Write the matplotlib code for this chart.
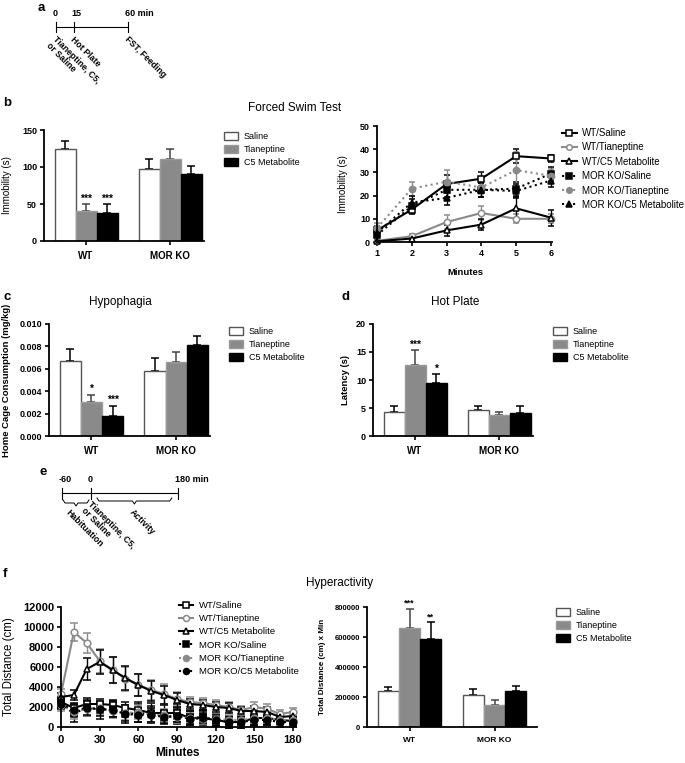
#!/usr/bin/env python3
"""Multi-panel behaviour figure: FST, hypophagia, hot plate and hyperactivity."""

import matplotlib

matplotlib.use("Agg")
import matplotlib.pyplot as plt
import numpy as np
from matplotlib.lines import Line2D
from matplotlib.patches import Patch

plt.rcParams["font.family"] = ["Liberation Sans", "DejaVu Sans"]

W, H = 685, 763

# ---------------------------------------------------------------- data
groups = ["WT", "MOR KO"]
treatments = ["Saline", "Tianeptine", "C5 Metabolite"]

# timelines (minutes)
timeline_a_times = [0, 15, 60]
timeline_a_ticks = ["0", "15", "60 min"]
timeline_a_events = ["Tianeptine, C5,\nor Saline", "Hot Plate", "FST, Feeding"]
timeline_e_times = [-60, 0, 180]
timeline_e_ticks = ["-60", "0", "180 min"]

# b: forced swim, total immobility (s)
fst_means = [[125, 41, 38], [97, 111, 91]]
fst_sems = [[10, 9, 12], [14, 14, 10]]
fst_stars = [["", "***", "***"], ["", "", ""]]

# b: forced swim time course
fst_minutes = [1, 2, 3, 4, 5, 6]
course_labels = ["WT/Saline", "WT/Tianeptine", "WT/C5 Metabolite",
                 "MOR KO/Saline", "MOR KO/Tianeptine", "MOR KO/C5 Metabolite"]
fst_course = [
    [5, 14, 25, 27.3, 37, 36],
    [0.5, 2.5, 8.6, 12.5, 10, 10],
    [0.3, 1.5, 5, 7.5, 14.5, 10.5],
    [3, 15.5, 22.5, 22.5, 23, 29.5],
    [6, 23, 26, 23.5, 31, 28.5],
    [4, 17, 19, 22.5, 22, 26.5],
]
fst_course_sems = [
    [2, 2, 4, 3, 3, 1.5],
    [0.5, 1, 3, 3, 2, 2],
    [0.5, 1, 2.5, 2.5, 5, 3.5],
    [2, 3, 3, 3, 3, 3],
    [2, 3, 5, 3, 8, 3],
    [2, 3, 3, 3, 3, 3],
]

# c: hypophagia, home cage consumption (mg/kg)
food_means = [[0.0067, 0.0030, 0.0018], [0.0058, 0.0066, 0.0081]]
food_sems = [[0.0011, 0.0007, 0.0009], [0.0012, 0.0009, 0.0008]]
food_stars = [["", "*", "***"], ["", "", ""]]

# d: hot plate latency (s)
hot_means = [[4.2, 12.6, 9.4], [4.7, 3.7, 4.1]]
hot_sems = [[1.1, 2.7, 1.6], [0.7, 0.6, 1.2]]
hot_stars = [["", "***", "*"], ["", "", ""]]

# f: hyperactivity time course, total distance (cm)
act_minutes = [0, 10, 20, 30, 40, 50, 60, 70, 80, 90, 100, 110, 120, 130, 140, 150, 160, 170, 180]
act_course = [
    [2500, 1900, 2300, 2300, 2200, 1900, 1700, 1400, 1400, 1400, 900, 900, 700, 500, 500, 900, 900, 700, 600],
    [3300, 9500, 8400, 6600, 5700, 4800, 4200, 3700, 3300, 2800, 2500, 2400, 2200, 2000, 1700, 2000, 1800, 1300, 1500],
    [3000, 3200, 5800, 6500, 5700, 4900, 4200, 3600, 3200, 2700, 2300, 2200, 2000, 1900, 1600, 1600, 1500, 1000, 1100],
    [2400, 1300, 2000, 1700, 1800, 1300, 1400, 1300, 1000, 1100, 900, 1000, 700, 500, 500, 800, 800, 600, 500],
    [2200, 1500, 1800, 1900, 1600, 1400, 1500, 1200, 1200, 1000, 900, 800, 800, 700, 700, 900, 900, 700, 700],
    [2300, 1700, 1900, 1800, 1700, 1300, 1200, 1200, 1000, 1100, 800, 900, 700, 500, 500, 700, 700, 500, 500],
]
act_course_sems = [
    [500, 500, 400, 500, 500, 600, 800, 1000, 800, 900, 700, 700, 600, 600, 600, 700, 600, 600, 500],
    [500, 900, 1000, 1200, 1300, 1200, 1100, 1000, 1000, 700, 500, 500, 500, 500, 400, 500, 500, 400, 400],
    [400, 500, 1100, 1200, 1300, 1200, 1100, 1000, 900, 700, 500, 500, 500, 500, 400, 500, 500, 400, 400],
    [500, 800, 900, 900, 800, 900, 900, 800, 700, 800, 700, 700, 600, 600, 600, 700, 600, 600, 500],
    [600, 700, 700, 700, 700, 700, 700, 700, 600, 600, 500, 500, 500, 500, 500, 500, 500, 500, 500],
    [500, 600, 700, 700, 700, 700, 700, 700, 600, 600, 500, 500, 500, 500, 500, 500, 500, 500, 500],
]

# f: area under curve, total distance (cm) x min
auc_means = [[240000, 660000, 585000], [215000, 150000, 240000]]
auc_sems = [[25000, 130000, 115000], [40000, 30000, 35000]]
auc_stars = [["", "***", "**"], ["", "", ""]]

# ---------------------------------------------------------------- styles
GREY = "#8a8a8a"
bar_fill = ["white", GREY, "black"]
bar_edge = ["#555555", "#9a9a9a", "black"]
bar_err = ["black", "#444444", "black"]
fst_styles = [
    dict(color="black", ls="-", marker="s", mfc="white"),
    dict(color=GREY, ls="-", marker="o", mfc="white"),
    dict(color="black", ls="-", marker="^", mfc="white"),
    dict(color="black", ls=":", marker="s", mfc="black"),
    dict(color=GREY, ls=":", marker="o", mfc=GREY),
    dict(color="black", ls=":", marker="^", mfc="black"),
]
act_styles = fst_styles[:5] + [dict(color="black", ls=":", marker="o", mfc="black")]

fig = plt.figure(figsize=(W / 100, H / 100), dpi=100)


def place(left, top, right, bottom):
    return fig.add_axes([left / W, 1 - bottom / H, (right - left) / W, (bottom - top) / H])


def ftext(x, y, s, **kw):
    fig.text(x / W, 1 - y / H, s, **kw)


def style_axes(ax, tick_fs):
    for side in ("top", "right"):
        ax.spines[side].set_visible(False)
    for side in ("left", "bottom"):
        ax.spines[side].set_linewidth(1.3)
    ax.tick_params(direction="out", length=3, width=1.2, labelsize=tick_fs, pad=2)
    for lab in ax.get_xticklabels() + ax.get_yticklabels():
        lab.set_fontweight("bold")


def bar_legend(ax, x, y, fs=6.5):
    handles = [Patch(facecolor=bar_fill[i], edgecolor=bar_edge[i], linewidth=1) for i in range(3)]
    ax.legend(handles, treatments, loc="upper left", bbox_to_anchor=(x / W, 1 - y / H),
              bbox_transform=fig.transFigure, frameon=False, fontsize=fs, borderpad=0,
              borderaxespad=0, handlelength=1.5, handleheight=0.9, handletextpad=0.7,
              labelspacing=0.45)


def bar_panel(ax, means, sems, stars, ylim, yticks, fmt, tick_fs, group_fs, star_fs, xmax=1.4):
    x = np.arange(len(groups))
    width = 0.25
    for i in range(len(treatments)):
        vals = np.array([means[g][i] for g in range(len(groups))])
        errs = np.array([sems[g][i] for g in range(len(groups))])
        pos = x + (i - 1) * width
        ax.bar(pos, vals, width, color=bar_fill[i], edgecolor=bar_edge[i], linewidth=1, zorder=2)
        ax.errorbar(pos, vals, yerr=[np.zeros_like(errs), errs], fmt="none", ecolor=bar_err[i],
                    elinewidth=1.1, capsize=3.2, capthick=1.1, zorder=1)
        for p, v, e, g in zip(pos, vals, errs, range(len(groups))):
            if stars[g][i]:
                ax.text(p, v + e + ylim * 0.005, stars[g][i], ha="center", va="bottom",
                        fontsize=star_fs, fontweight="bold")
    ax.set_xlim(-0.5, xmax)
    ax.set_ylim(0, ylim)
    ax.set_yticks(yticks)
    ax.set_yticklabels([fmt.format(t) for t in yticks])
    ax.set_xticks(x)
    ax.set_xticklabels(groups)
    style_axes(ax, tick_fs)
    for lab in ax.get_xticklabels():
        lab.set_fontsize(group_fs)
    ax.tick_params(axis="x", pad=4)


def course_panel(ax, xs, series, sems, styles, ms, cap):
    for vals, errs, st in zip(series, sems, styles):
        cont = ax.errorbar(xs, vals, yerr=errs, color=st["color"], ls=st["ls"], lw=1.5,
                           marker=st["marker"], mfc=st["mfc"], mec=st["color"], ms=ms, mew=1.1,
                           elinewidth=1, capsize=cap, capthick=1)
        for art in [cont.lines[0], *cont.lines[1], *cont.lines[2]]:
            art.set_clip_on(False)


def course_legend(ax, styles, x, y, fs, ms, spacing=0.4):
    handles = [Line2D([], [], color=st["color"], ls=st["ls"], lw=1.5, marker=st["marker"],
                      mfc=st["mfc"], mec=st["color"], ms=ms, mew=1.1) for st in styles]
    ax.legend(handles, course_labels, loc="upper left", bbox_to_anchor=(x / W, 1 - y / H),
              bbox_transform=fig.transFigure, frameon=False, fontsize=fs, borderpad=0,
              borderaxespad=0, handlelength=1.5, handletextpad=0.6, labelspacing=spacing)


# ---------------------------------------------------------------- timelines (a, e)
ov = fig.add_axes([0, 0, 1, 1])
ov.set_xlim(0, W)
ov.set_ylim(H, 0)
ov.axis("off")

ax_x = [56 + t * 1.2 for t in timeline_a_times]
ov.plot([ax_x[0], ax_x[-1]], [27, 27], color="black", lw=0.8)
for xx, tick, ev in zip(ax_x, timeline_a_ticks, timeline_a_events):
    ov.plot([xx, xx], [22, 32], color="black", lw=0.8)
    ov.text(xx - 3, 14, tick, fontsize=6.5, fontweight="bold", ha="left", va="center")
    ov.text(xx + 1, 35, ev, fontsize=6.3, fontweight="bold", rotation=-45,
            rotation_mode="anchor", ha="left", va="top", linespacing=1.0)

ex = [91 + t * 0.482 for t in timeline_e_times]
ov.plot([ex[0], ex[-1]], [493, 493], color="black", lw=0.8)
for xx, tick in zip(ex, timeline_e_ticks):
    ov.plot([xx, xx], [488, 499], color="black", lw=0.8)
    ov.text(xx - 3, 479, tick, fontsize=6.5, fontweight="bold", ha="left", va="center")


def brace(x0, x1, y0):
    xm = (x0 + x1) / 2
    xs = [x0, x0 + 2, xm - 2, xm, xm + 2, x1 - 2, x1]
    ys = [y0, y0 + 3, y0 + 3, y0 + 6, y0 + 3, y0 + 3, y0]
    ov.plot(xs, ys, color="black", lw=0.7)


brace(ex[0] + 1, ex[1] - 2, 500)
brace(ex[1] + 6, ex[2] - 6, 498)
ov.text(70, 508, "Habituation", fontsize=6.3, fontweight="bold", rotation=-45,
        rotation_mode="anchor", ha="left", va="top")
ov.text(ex[1] + 1, 500, "Tianeptine, C5,\nor Saline", fontsize=6.3, fontweight="bold",
        rotation=-45, rotation_mode="anchor", ha="left", va="top", linespacing=1.0)
ov.text(134, 508, "Activity", fontsize=6.3, fontweight="bold", rotation=-45,
        rotation_mode="anchor", ha="left", va="top")

# ---------------------------------------------------------------- panel letters / titles
for letter, (lx, ly) in {"a": (38, 2), "b": (3, 97), "c": (3, 291), "d": (342, 291),
                         "e": (40, 466), "f": (3, 568)}.items():
    ftext(lx, ly, letter, fontsize=9.5, fontweight="bold", va="top", ha="left")
ftext(295, 108, "Forced Swim Test", fontsize=8.5, ha="center", va="center")
ftext(120, 302, "Hypophagia", fontsize=8.5, ha="center", va="center")
ftext(455, 302, "Hot Plate", fontsize=8.5, ha="center", va="center")
ftext(340, 583, "Hyperactivity", fontsize=8.5, ha="center", va="center")

# ---------------------------------------------------------------- b left
ax_b1 = place(44, 130, 204, 241)
bar_panel(ax_b1, fst_means, fst_sems, fst_stars, 150, [0, 50, 100, 150], "{:g}", 6.5, 7, 7.5)
bar_legend(ax_b1, 224, 132)
ftext(7, 185, "Immobility (s)", fontsize=7, rotation=90, ha="center", va="center")

# ---------------------------------------------------------------- b right
ax_b2 = place(377, 126, 552, 242)
course_panel(ax_b2, fst_minutes, fst_course, fst_course_sems, fst_styles, ms=4.5, cap=2.5)
ax_b2.set_xlim(1, 6.03)
ax_b2.set_ylim(0, 50)
ax_b2.set_xticks(fst_minutes)
ax_b2.set_yticks([0, 10, 20, 30, 40, 50])
style_axes(ax_b2, 6.5)
course_legend(ax_b2, fst_styles, 562, 128, 7, 4, spacing=0.45)
ftext(343, 184, "Immobility (s)", fontsize=7, rotation=90, ha="center", va="center")
ftext(465, 272, "Minutes", fontsize=6.8, fontweight="bold", ha="center", va="center")

# ---------------------------------------------------------------- c
ax_c = place(49, 324, 210, 436)
bar_panel(ax_c, food_means, food_sems, food_stars, 0.010,
          [0, 0.002, 0.004, 0.006, 0.008, 0.010], "{:.3f}", 6.5, 7, 7.5)
bar_legend(ax_c, 229, 327)
ftext(7, 380, "Home Cage Consumption (mg/kg)", fontsize=6.8, fontweight="bold",
      rotation=90, ha="center", va="center")

# ---------------------------------------------------------------- d
ax_d = place(373, 324, 533, 436)
bar_panel(ax_d, hot_means, hot_sems, hot_stars, 20, [0, 5, 10, 15, 20], "{:g}", 6.5, 7, 7.5)
bar_legend(ax_d, 553, 327)
ftext(346, 380, "Latency (s)", fontsize=6.8, fontweight="bold", rotation=90,
      ha="center", va="center")

# ---------------------------------------------------------------- f left
ax_f1 = place(61, 607, 293, 727)
course_panel(ax_f1, act_minutes, act_course, act_course_sems, act_styles, ms=4.8, cap=3.2)
ax_f1.set_xlim(0, 180)
ax_f1.set_ylim(0, 12000)
ax_f1.set_xticks([0, 30, 60, 90, 120, 150, 180])
ax_f1.set_yticks(np.arange(0, 12001, 2000))
style_axes(ax_f1, 8)
ax_f1.tick_params(axis="x", pad=3)
course_legend(ax_f1, act_styles, 179, 601, 6.8, 4.3, spacing=0.45)
ftext(9, 667, "Total Distance (cm)", fontsize=8.3, rotation=90, ha="center", va="center")
ftext(177, 753, "Minutes", fontsize=8.5, fontweight="bold", ha="center", va="center")

# ---------------------------------------------------------------- f right
ax_f2 = place(367, 607, 537, 727)
bar_panel(ax_f2, auc_means, auc_sems, auc_stars, 800000,
          [0, 200000, 400000, 600000, 800000], "{:d}", 5.5, 6, 6.5, xmax=1.5)
bar_legend(ax_f2, 556, 608)
ftext(323, 667, "Total Distance (cm) x Min", fontsize=5.8, fontweight="bold",
      rotation=90, ha="center", va="center")

fig.savefig("out.png", dpi=100)
